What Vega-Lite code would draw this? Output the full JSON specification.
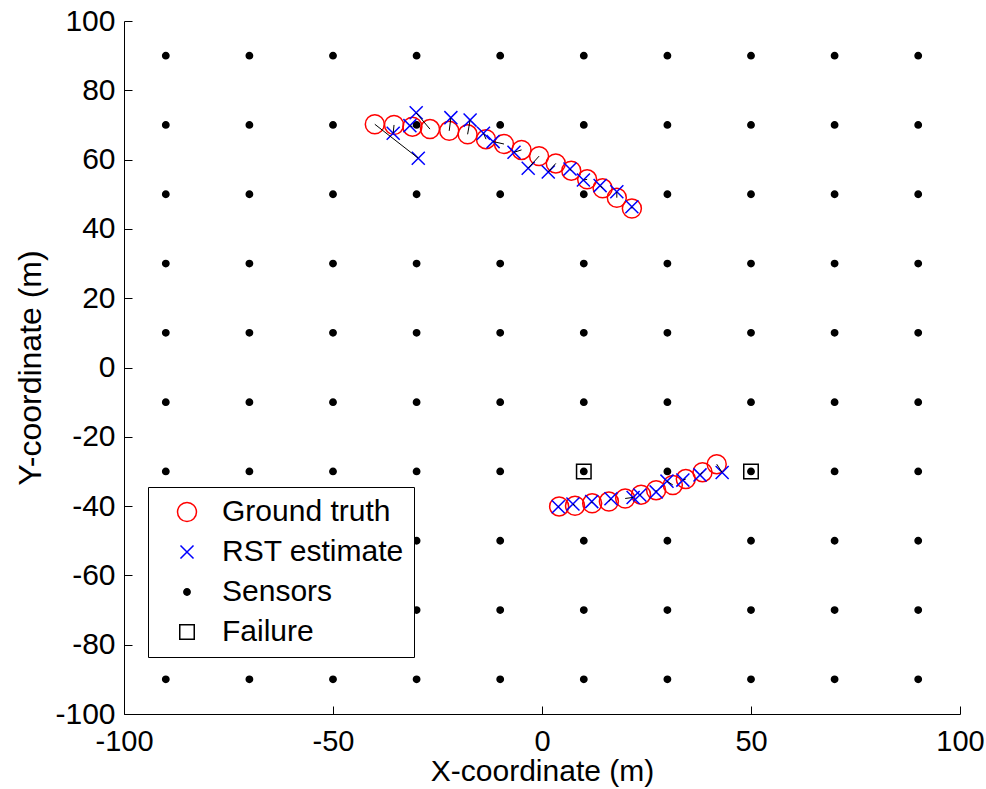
{
  "$schema": "https://vega.github.io/schema/vega-lite/v6.json",
  "width": 836,
  "height": 693,
  "autosize": {"type": "none"},
  "padding": {"left": 124, "top": 21, "right": 26, "bottom": 75},
  "background": "white",
  "config": {
    "view": {"stroke": null},
    "font": "Liberation Sans",
    "axis": {
      "grid": false,
      "domainColor": "black",
      "domainWidth": 1,
      "tickColor": "black",
      "tickSize": -8,
      "tickWidth": 1,
      "labelColor": "black",
      "labelFontSize": 30,
      "labelFont": "Liberation Sans",
      "labelFlush": false,
      "labelOverlap": false,
      "labelExpr": "'' + datum.value",
      "titleColor": "black",
      "titleFont": "Liberation Sans",
      "titleFontSize": 30,
      "titleFontWeight": "normal"
    },
    "legend": {
      "orient": "none",
      "legendX": 24,
      "legendY": 466,
      "padding": 10,
      "symbolOffset": 14,
      "labelOffset": 20,
      "rowPadding": 10,
      "strokeColor": "black",
      "fillColor": "white",
      "labelFont": "Liberation Sans",
      "labelFontSize": 30,
      "labelColor": "black",
      "labelLimit": 400,
      "cornerRadius": 0,
      "symbolStrokeWidth": 1.5
    }
  },
  "datasets": {
    "pts": [
      {"x": -90, "y": -90, "series": "Sensors"}, {"x": -90, "y": -70, "series": "Sensors"}, {"x": -90, "y": -50, "series": "Sensors"}, {"x": -90, "y": -30, "series": "Sensors"}, {"x": -90, "y": -10, "series": "Sensors"}, {"x": -90, "y": 10, "series": "Sensors"}, {"x": -90, "y": 30, "series": "Sensors"}, {"x": -90, "y": 50, "series": "Sensors"}, {"x": -90, "y": 70, "series": "Sensors"}, {"x": -90, "y": 90, "series": "Sensors"},
      {"x": -70, "y": -90, "series": "Sensors"}, {"x": -70, "y": -70, "series": "Sensors"}, {"x": -70, "y": -50, "series": "Sensors"}, {"x": -70, "y": -30, "series": "Sensors"}, {"x": -70, "y": -10, "series": "Sensors"}, {"x": -70, "y": 10, "series": "Sensors"}, {"x": -70, "y": 30, "series": "Sensors"}, {"x": -70, "y": 50, "series": "Sensors"}, {"x": -70, "y": 70, "series": "Sensors"}, {"x": -70, "y": 90, "series": "Sensors"},
      {"x": -50, "y": -90, "series": "Sensors"}, {"x": -50, "y": -70, "series": "Sensors"}, {"x": -50, "y": -50, "series": "Sensors"}, {"x": -50, "y": -30, "series": "Sensors"}, {"x": -50, "y": -10, "series": "Sensors"}, {"x": -50, "y": 10, "series": "Sensors"}, {"x": -50, "y": 30, "series": "Sensors"}, {"x": -50, "y": 50, "series": "Sensors"}, {"x": -50, "y": 70, "series": "Sensors"}, {"x": -50, "y": 90, "series": "Sensors"},
      {"x": -30, "y": -90, "series": "Sensors"}, {"x": -30, "y": -70, "series": "Sensors"}, {"x": -30, "y": -50, "series": "Sensors"}, {"x": -30, "y": -30, "series": "Sensors"}, {"x": -30, "y": -10, "series": "Sensors"}, {"x": -30, "y": 10, "series": "Sensors"}, {"x": -30, "y": 30, "series": "Sensors"}, {"x": -30, "y": 50, "series": "Sensors"}, {"x": -30, "y": 70, "series": "Sensors"}, {"x": -30, "y": 90, "series": "Sensors"},
      {"x": -10, "y": -90, "series": "Sensors"}, {"x": -10, "y": -70, "series": "Sensors"}, {"x": -10, "y": -50, "series": "Sensors"}, {"x": -10, "y": -30, "series": "Sensors"}, {"x": -10, "y": -10, "series": "Sensors"}, {"x": -10, "y": 10, "series": "Sensors"}, {"x": -10, "y": 30, "series": "Sensors"}, {"x": -10, "y": 50, "series": "Sensors"}, {"x": -10, "y": 70, "series": "Sensors"}, {"x": -10, "y": 90, "series": "Sensors"},
      {"x": 10, "y": -90, "series": "Sensors"}, {"x": 10, "y": -70, "series": "Sensors"}, {"x": 10, "y": -50, "series": "Sensors"}, {"x": 10, "y": -30, "series": "Sensors"}, {"x": 10, "y": -10, "series": "Sensors"}, {"x": 10, "y": 10, "series": "Sensors"}, {"x": 10, "y": 30, "series": "Sensors"}, {"x": 10, "y": 50, "series": "Sensors"}, {"x": 10, "y": 70, "series": "Sensors"}, {"x": 10, "y": 90, "series": "Sensors"},
      {"x": 30, "y": -90, "series": "Sensors"}, {"x": 30, "y": -70, "series": "Sensors"}, {"x": 30, "y": -50, "series": "Sensors"}, {"x": 30, "y": -30, "series": "Sensors"}, {"x": 30, "y": -10, "series": "Sensors"}, {"x": 30, "y": 10, "series": "Sensors"}, {"x": 30, "y": 30, "series": "Sensors"}, {"x": 30, "y": 50, "series": "Sensors"}, {"x": 30, "y": 70, "series": "Sensors"}, {"x": 30, "y": 90, "series": "Sensors"},
      {"x": 50, "y": -90, "series": "Sensors"}, {"x": 50, "y": -70, "series": "Sensors"}, {"x": 50, "y": -50, "series": "Sensors"}, {"x": 50, "y": -30, "series": "Sensors"}, {"x": 50, "y": -10, "series": "Sensors"}, {"x": 50, "y": 10, "series": "Sensors"}, {"x": 50, "y": 30, "series": "Sensors"}, {"x": 50, "y": 50, "series": "Sensors"}, {"x": 50, "y": 70, "series": "Sensors"}, {"x": 50, "y": 90, "series": "Sensors"},
      {"x": 70, "y": -90, "series": "Sensors"}, {"x": 70, "y": -70, "series": "Sensors"}, {"x": 70, "y": -50, "series": "Sensors"}, {"x": 70, "y": -30, "series": "Sensors"}, {"x": 70, "y": -10, "series": "Sensors"}, {"x": 70, "y": 10, "series": "Sensors"}, {"x": 70, "y": 30, "series": "Sensors"}, {"x": 70, "y": 50, "series": "Sensors"}, {"x": 70, "y": 70, "series": "Sensors"}, {"x": 70, "y": 90, "series": "Sensors"},
      {"x": 90, "y": -90, "series": "Sensors"}, {"x": 90, "y": -70, "series": "Sensors"}, {"x": 90, "y": -50, "series": "Sensors"}, {"x": 90, "y": -30, "series": "Sensors"}, {"x": 90, "y": -10, "series": "Sensors"}, {"x": 90, "y": 10, "series": "Sensors"}, {"x": 90, "y": 30, "series": "Sensors"}, {"x": 90, "y": 50, "series": "Sensors"}, {"x": 90, "y": 70, "series": "Sensors"}, {"x": 90, "y": 90, "series": "Sensors"},
      {"x": 10, "y": -30, "series": "Failure"}, {"x": 50, "y": -30, "series": "Failure"},
      {"x": -40.0, "y": 70.2, "series": "Ground truth"}, {"x": -35.4, "y": 70.0, "series": "Ground truth"}, {"x": -31.0, "y": 69.5, "series": "Ground truth"}, {"x": -26.8, "y": 68.8, "series": "Ground truth"}, {"x": -22.2, "y": 68.3, "series": "Ground truth"}, {"x": -17.8, "y": 67.3, "series": "Ground truth"}, {"x": -13.4, "y": 65.9, "series": "Ground truth"}, {"x": -9.1, "y": 64.5, "series": "Ground truth"}, {"x": -4.9, "y": 62.8, "series": "Ground truth"}, {"x": -0.7, "y": 61.0, "series": "Ground truth"}, {"x": 3.3, "y": 58.9, "series": "Ground truth"}, {"x": 7.0, "y": 56.8, "series": "Ground truth"}, {"x": 10.8, "y": 54.3, "series": "Ground truth"}, {"x": 14.5, "y": 51.7, "series": "Ground truth"}, {"x": 17.9, "y": 49.0, "series": "Ground truth"}, {"x": 21.5, "y": 45.9, "series": "Ground truth"},
      {"x": 4.1, "y": -40.1, "series": "Ground truth"}, {"x": 7.9, "y": -39.9, "series": "Ground truth"}, {"x": 12.0, "y": -39.2, "series": "Ground truth"}, {"x": 16.0, "y": -38.7, "series": "Ground truth"}, {"x": 19.9, "y": -37.8, "series": "Ground truth"}, {"x": 23.7, "y": -36.7, "series": "Ground truth"}, {"x": 27.3, "y": -35.4, "series": "Ground truth"}, {"x": 31.3, "y": -33.9, "series": "Ground truth"}, {"x": 34.4, "y": -32.2, "series": "Ground truth"}, {"x": 38.4, "y": -30.2, "series": "Ground truth"}, {"x": 41.8, "y": -27.9, "series": "Ground truth"},
      {"x": -29.6, "y": 60.4, "series": "RST estimate"}, {"x": -35.6, "y": 67.6, "series": "RST estimate"}, {"x": -31.6, "y": 69.8, "series": "RST estimate"}, {"x": -30.1, "y": 73.5, "series": "RST estimate"}, {"x": -21.8, "y": 72.1, "series": "RST estimate"}, {"x": -17.2, "y": 71.4, "series": "RST estimate"}, {"x": -14.0, "y": 67.6, "series": "RST estimate"}, {"x": -11.7, "y": 65.2, "series": "RST estimate"}, {"x": -6.7, "y": 62.1, "series": "RST estimate"}, {"x": -3.3, "y": 57.5, "series": "RST estimate"}, {"x": 1.5, "y": 56.4, "series": "RST estimate"}, {"x": 6.7, "y": 57.3, "series": "RST estimate"}, {"x": 9.9, "y": 54.1, "series": "RST estimate"}, {"x": 13.9, "y": 52.5, "series": "RST estimate"}, {"x": 17.9, "y": 50.7, "series": "RST estimate"}, {"x": 21.5, "y": 46.4, "series": "RST estimate"},
      {"x": 3.9, "y": -40.2, "series": "RST estimate"}, {"x": 7.4, "y": -39.4, "series": "RST estimate"}, {"x": 11.9, "y": -38.7, "series": "RST estimate"}, {"x": 16.5, "y": -37.9, "series": "RST estimate"}, {"x": 21.8, "y": -37.5, "series": "RST estimate"}, {"x": 23.4, "y": -36.8, "series": "RST estimate"}, {"x": 27.3, "y": -35.9, "series": "RST estimate"}, {"x": 29.9, "y": -32.8, "series": "RST estimate"}, {"x": 33.7, "y": -32.5, "series": "RST estimate"}, {"x": 37.8, "y": -31.0, "series": "RST estimate"}, {"x": 43.1, "y": -30.3, "series": "RST estimate"}
    ],
    "links": [
      {"gx": -40.0, "gy": 70.2, "ex": -29.6, "ey": 60.4}, {"gx": -35.4, "gy": 70.0, "ex": -35.6, "ey": 67.6}, {"gx": -31.0, "gy": 69.5, "ex": -31.6, "ey": 69.8}, {"gx": -26.8, "gy": 68.8, "ex": -30.1, "ey": 73.5}, {"gx": -22.2, "gy": 68.3, "ex": -21.8, "ey": 72.1}, {"gx": -17.8, "gy": 67.3, "ex": -17.2, "ey": 71.4}, {"gx": -13.4, "gy": 65.9, "ex": -14.0, "ey": 67.6}, {"gx": -9.1, "gy": 64.5, "ex": -11.7, "ey": 65.2}, {"gx": -4.9, "gy": 62.8, "ex": -6.7, "ey": 62.1}, {"gx": -0.7, "gy": 61.0, "ex": -3.3, "ey": 57.5}, {"gx": 3.3, "gy": 58.9, "ex": 1.5, "ey": 56.4}, {"gx": 7.0, "gy": 56.8, "ex": 6.7, "ey": 57.3}, {"gx": 10.8, "gy": 54.3, "ex": 9.9, "ey": 54.1}, {"gx": 14.5, "gy": 51.7, "ex": 13.9, "ey": 52.5}, {"gx": 17.9, "gy": 49.0, "ex": 17.9, "ey": 50.7}, {"gx": 21.5, "gy": 45.9, "ex": 21.5, "ey": 46.4},
      {"gx": 4.1, "gy": -40.1, "ex": 3.9, "ey": -40.2}, {"gx": 7.9, "gy": -39.9, "ex": 7.4, "ey": -39.4}, {"gx": 12.0, "gy": -39.2, "ex": 11.9, "ey": -38.7}, {"gx": 16.0, "gy": -38.7, "ex": 16.5, "ey": -37.9}, {"gx": 19.9, "gy": -37.8, "ex": 21.8, "ey": -37.5}, {"gx": 23.7, "gy": -36.7, "ex": 23.4, "ey": -36.8}, {"gx": 27.3, "gy": -35.4, "ex": 27.3, "ey": -35.9}, {"gx": 31.3, "gy": -33.9, "ex": 29.9, "ey": -32.8}, {"gx": 34.4, "gy": -32.2, "ex": 33.7, "ey": -32.5}, {"gx": 38.4, "gy": -30.2, "ex": 37.8, "ey": -31.0}, {"gx": 41.8, "gy": -27.9, "ex": 43.1, "ey": -30.3}
    ]
  },
  "layer": [
    {
      "data": {"name": "pts"},
      "mark": {"type": "point", "filled": true, "strokeWidth": 1.5, "opacity": 1},
      "encoding": {
        "x": {"field": "x", "type": "quantitative", "scale": {"domain": [-100, 100], "nice": false, "zero": false},
              "axis": {"values": [-100, -50, 0, 50, 100], "title": "X-coordinate (m)", "labelFontSize": 29, "labelPadding": 21, "titlePadding": 0}},
        "y": {"field": "y", "type": "quantitative", "scale": {"domain": [-100, 100], "nice": false, "zero": false},
              "axis": {"values": [-100, -80, -60, -40, -20, 0, 20, 40, 60, 80, 100], "title": "Y-coordinate (m)", "titleFontSize": 32, "labelPadding": 17, "titlePadding": 7}},
        "shape": {"field": "series", "type": "nominal",
                  "scale": {"domain": ["Ground truth", "RST estimate", "Sensors", "Failure"], "range": ["circle", "M-1,-1L1,1M-1,1L1,-1", "circle", "square"]},
                  "legend": {"title": null}},
        "stroke": {"field": "series", "type": "nominal",
                   "scale": {"domain": ["Ground truth", "RST estimate", "Sensors", "Failure"], "range": ["#ff0000", "#0000ff", "#000000", "#000000"]},
                   "legend": {"title": null}},
        "fill": {"field": "series", "type": "nominal",
                 "scale": {"domain": ["Ground truth", "RST estimate", "Sensors", "Failure"], "range": ["rgba(255,255,255,0)", "rgba(255,255,255,0)", "#000000", "rgba(255,255,255,0)"]},
                 "legend": {"title": null}},
        "size": {"field": "series", "type": "nominal",
                 "scale": {"type": "ordinal", "domain": ["Ground truth", "RST estimate", "Sensors", "Failure"], "range": [360, 170, 40, 210]},
                 "legend": {"title": null}}
      }
    },
    {
      "data": {"name": "links"},
      "mark": {"type": "rule", "color": "black", "strokeWidth": 1},
      "encoding": {
        "x": {"field": "gx", "type": "quantitative"},
        "y": {"field": "gy", "type": "quantitative"},
        "x2": {"field": "ex"},
        "y2": {"field": "ey"}
      }
    }
  ]
}
